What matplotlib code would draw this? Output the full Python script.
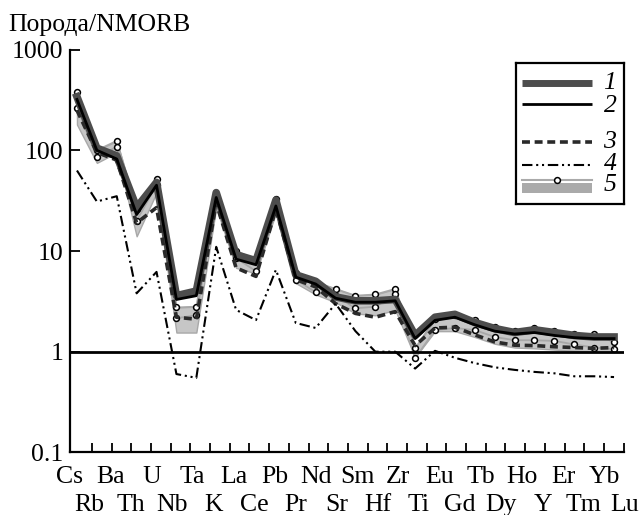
import matplotlib
matplotlib.use('Agg')
import matplotlib.pyplot as plt
import matplotlib.transforms as mtransforms
from matplotlib.patches import Rectangle
import numpy as np

plt.rcParams['font.family'] = ['Liberation Serif', 'DejaVu Serif']

# ---------------- data ----------------
elements = ['Cs', 'Rb', 'Ba', 'Th', 'U', 'Nb', 'Ta', 'K', 'La', 'Ce', 'Pb', 'Pr', 'Nd', 'Sr',
            'Sm', 'Hf', 'Zr', 'Ti', 'Eu', 'Gd', 'Tb', 'Dy', 'Ho', 'Y', 'Er', 'Tm', 'Yb', 'Lu']

s1 = [340, 105, 88, 27, 48, 3.6, 4.0, 38, 9.2, 8.0, 32, 5.8, 5.0, 3.5,
      3.2, 3.2, 3.3, 1.45, 2.2, 2.35, 1.95, 1.7, 1.55, 1.65, 1.55, 1.45, 1.4, 1.4]
s2 = [320, 100, 82, 23, 45, 3.3, 3.6, 34, 8.3, 7.3, 28, 5.5, 4.7, 3.4,
      3.1, 3.1, 3.2, 1.35, 2.05, 2.2, 1.85, 1.6, 1.5, 1.55, 1.45, 1.38, 1.35, 1.35]
s3 = [250, 95, 80, 19, 27, 2.2, 2.1, 30, 6.8, 5.6, 26, 5.2, 4.4, 3.0,
      2.4, 2.2, 2.5, 1.15, 1.72, 1.75, 1.47, 1.25, 1.16, 1.15, 1.12, 1.1, 1.08, 1.1]
s4 = [63, 31, 35, 3.8, 6.2, 0.6, 0.55, 11, 2.6, 2.06, 6.5, 1.93, 1.72, 3.0,
      1.6, 1.0, 1.0, 0.68, 1.02, 0.87, 0.77, 0.7, 0.66, 0.63, 0.61, 0.57, 0.57, 0.56]
# series 5: two samples (circles) and the field they bound
s5a = [380, 100, 124, 26, 52, 2.75, 2.8, 36, 10, 8.2, 33, 6.0, 4.9, 4.2,
       3.6, 3.7, 4.2, 1.08, 2.1, 2.3, 2.05, 1.75, 1.6, 1.7, 1.6, 1.5, 1.5, 1.25]
s5b = [265, 86, 108, 20, 45, 2.15, 2.3, 30, 8.5, 6.3, 27, 5.2, 3.9, 3.6,
       2.7, 2.8, 3.7, 0.86, 1.64, 1.72, 1.64, 1.4, 1.3, 1.3, 1.28, 1.18, 1.1, 1.06]
s5_low = [180, 75, 95, 14, 38, 1.55, 1.55, 27, 6.8, 6.0, 24, 4.8, 3.7, 3.1,
          2.4, 2.3, 2.6, 0.88, 1.6, 1.6, 1.4, 1.2, 1.1, 1.08, 1.05, 1.02, 1.0, 1.0]

yticks = [0.1, 1, 10, 100, 1000]
ytick_labels = ['0.1', '1', '10', '100', '1000']
legend_labels = ['1', '2', '3', '4', '5']

# ---------------- figure ----------------
W, H = 642, 515
fig = plt.figure(figsize=(W / 100, H / 100), dpi=100)
ax = fig.add_axes([70 / W, 1 - 452.4 / H, (624 - 70) / W, (452.4 - 49.6) / H])

x = np.arange(len(elements))
FS = 18.5

ax.fill_between(x, s5_low, s5a, facecolor='#c6c6c6', edgecolor='#a8a8a8', lw=1, zorder=1)
for s in (s5a, s5b):
    ax.plot(x, s, color='#a8a8a8', lw=1.3, zorder=2)
    ax.plot(x, s, ls='none', marker='o', ms=4.2, mfc='white', mec='black', mew=1.1, zorder=3)

ax.axhline(1, color='black', lw=2, zorder=3.5)
ax.plot(x, s1, color='#4d4d4d', lw=5.5, zorder=4)
ax.plot(x, s3, color='#2a2a2a', lw=2.6, ls=(0, (2.2, 1.3)), zorder=5)
ax.plot(x, s2, color='black', lw=2, zorder=6)
ax.plot(x, s4, color='black', lw=1.5, ls=(0, (5, 1.8, 1, 1.8, 1, 1.8)), zorder=7)

ax.set_yscale('log')
ax.set_ylim(0.1, 1000)
ax.set_xlim(-0.35, 27.5)
ax.set_yticks(yticks)
ax.set_yticklabels(ytick_labels)
ax.yaxis.set_minor_locator(matplotlib.ticker.NullLocator())
ax.set_xticks([min(0.75 + 0.99 * k, 27.49) for k in range(28)])
ax.set_xticklabels([])

for side in ('top', 'right'):
    ax.spines[side].set_visible(False)
for side in ('left', 'bottom'):
    ax.spines[side].set_linewidth(1.6)
ax.tick_params(axis='y', direction='in', length=7.5, width=1.3, labelsize=FS, pad=5)
ax.tick_params(axis='x', direction='in', length=6.5, width=1.3)

trans = mtransforms.blended_transform_factory(ax.transData, fig.transFigure)
for k, name in enumerate(elements):
    ypix = 483 if k % 2 == 0 else 511
    ax.text(-0.4 + 1.035 * k, 1 - ypix / H, name, transform=trans, ha='center',
            va='baseline', fontsize=FS, clip_on=False)

fig.text(8 / W, 1 - 31 / H, 'Порода/NMORB', ha='left', va='baseline', fontsize=FS)

# ---------------- legend ----------------
lax = fig.add_axes([516 / W, 1 - 204 / H, 108 / W, 141 / H])
lax.set_xlim(0, 1)
lax.set_ylim(0, 1)
lax.set_xticks([])
lax.set_yticks([])
for sp in lax.spines.values():
    sp.set_linewidth(1.6)
x0, x1 = 0.056, 0.70
lax.plot([x0, x1], [0.858, 0.858], color='#4d4d4d', lw=5, solid_capstyle='butt')
lax.plot([x0, x1], [0.709, 0.709], color='black', lw=2, solid_capstyle='butt')
lax.plot([x0, x1], [0.44, 0.44], color='#2a2a2a', lw=2.6, ls=(0, (2.2, 1.3)))
lax.plot([x0, x1], [0.277, 0.277], color='black', lw=1.5, ls=(0, (5, 1.8, 1, 1.8, 1, 1.8)))
lax.add_patch(Rectangle((x0, 0.078), x1 - x0, 0.071, facecolor='#aaaaaa', edgecolor='none'))
lax.plot([x0, x1], [0.17, 0.17], color='#aaaaaa', lw=1.5)
lax.plot([0.38], [0.17], ls='none', marker='o', ms=4.2, mfc='white', mec='black', mew=1.1)
for lbl, yy in zip(legend_labels, [0.855, 0.698, 0.44, 0.284, 0.135]):
    lax.text(0.87, yy, lbl, ha='center', va='center', fontsize=FS, style='italic')

fig.savefig('out.png', dpi=100)
